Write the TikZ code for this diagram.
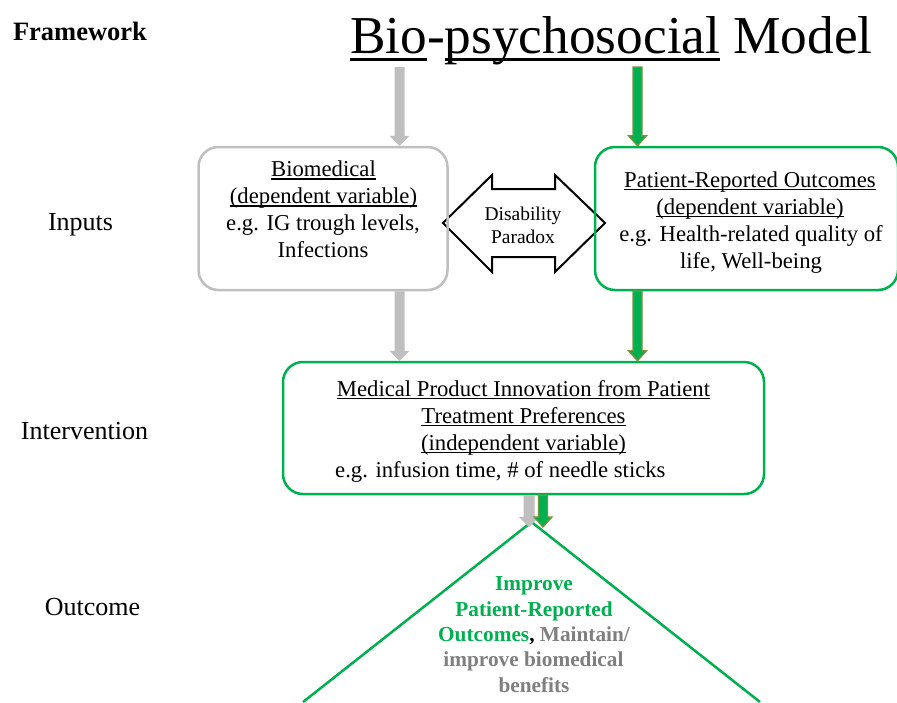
\documentclass[tikz,border=0pt]{standalone}
\usepackage{fontspec}
\setmainfont{Liberation Serif}
\usetikzlibrary{calc}
\newsavebox{\myulbox}
\newcommand{\ulx}[1]{\sbox\myulbox{#1}\rlap{\rule[-0.135em]{\wd\myulbox}{0.06em}}\usebox\myulbox}
\definecolor{pgreen}{HTML}{00B050}
\definecolor{pgray}{HTML}{BFBFBF}
\definecolor{polive}{HTML}{77933C}
\definecolor{tgray}{HTML}{7F7F7F}
% #1 style, #2 start, #3 tip, #4 half shaft, #5 half head
\newcommand{\fatarrow}[5]{%
  \draw[#1] ($(#2)+(-#4,0)$) -- ($(#3)+(-#4,-10)$) -- ($(#3)+(-#5,-10)$) -- (#3)
    -- ($(#3)+(#5,-10)$) -- ($(#3)+(#4,-10)$) -- ($(#2)+(#4,0)$) -- cycle;}
\begin{document}
\begin{tikzpicture}[x=1pt,y=-1pt,
  graybox/.style={draw=pgray, line width=2.5pt, rounded corners=20pt, inner sep=0pt},
  greenbox/.style={draw=pgreen, line width=2.5pt, rounded corners=20pt, inner sep=0pt},
  grayarr/.style={fill=pgray, draw=none},
  greenarr/.style={fill=pgreen, draw=polive, line width=1.3pt, line join=miter},
  dblarr/.style={fill=white, draw=black, line width=2pt, line join=miter},
  lbl/.style={font=\fontsize{26}{30}\selectfont, inner sep=0pt, anchor=base},
  txt/.style={font=\fontsize{22.7}{27}\selectfont, inner sep=0pt, anchor=base},
  dtxt/.style={font=\fontsize{19.5}{23}\selectfont, inner sep=0pt, anchor=base},
  otxt/.style={font=\bfseries\fontsize{21.3}{25}\selectfont, inner sep=0pt, anchor=base},
  tri/.style={draw=pgreen, line width=2.5pt}
]
\useasboundingbox (0,0) rectangle (897,702);

% left labels
\node[lbl, font=\bfseries\fontsize{26.5}{30}\selectfont] (fw) at (80,40) {Framework};
\node[lbl] (inp) at (80.5,230) {Inputs};
\node[lbl] (intv) at (84.5,439) {Intervention};
\node[lbl] (outc) at (92.5,615) {Outcome};

% title
\node[inner sep=0pt, anchor=base west, font=\fontsize{53.3}{60}\selectfont] (title) at (350,53.5)
  {\ulx{Bio}-\ulx{psychosocial} Model};

% outcome triangle
\coordinate (apex) at (531.5,522);
\coordinate (tl) at (303,702);
\coordinate (tr) at (760,702);
\draw[tri] (tl) -- (apex) -- (tr);

% disability paradox double arrow (below boxes)
\draw[dblarr] (443,223) -- (492,175) -- (492,189) -- (555,189) -- (555,175) -- (605,223)
  -- (555,272) -- (555,257) -- (492,257) -- (492,272) -- cycle;
\node[dtxt] (dp1) at (523,220) {Disability};
\node[dtxt] (dp2) at (523,243) {Paradox};

% boxes
\node[graybox, minimum width=249pt, minimum height=143pt] (bio) at (323,218.5) {};
\node[greenbox, minimum width=303pt, minimum height=143pt] (pro) at (746.5,218.5) {};
\node[greenbox, minimum width=481pt, minimum height=132pt] (int) at (523.5,428) {};

% box texts
\node[txt] (b1) at (323.5,176.7) {\ulx{Biomedical}};
\node[txt] (b2) at (323.5,203.7) {\ulx{(dependent variable)}};
\node[txt] (b3) at (323,230.7) {e.g. IG trough levels,};
\node[txt] (b4) at (323,257.7) {Infections};

\node[txt] (p1) at (750,187) {\ulx{Patient-Reported Outcomes}};
\node[txt] (p2) at (750,214) {\ulx{(dependent variable)}};
\node[txt] (p3) at (751,241) {e.g. Health-related quality of};
\node[txt] (p4) at (751,268) {life, Well-being};

\node[txt] (i1) at (523.5,396) {\ulx{Medical Product Innovation from Patient}};
\node[txt] (i2) at (523.5,423) {\ulx{Treatment Preferences}};
\node[txt] (i3) at (523.5,450) {\ulx{(independent variable)}};
\node[txt, anchor=base west] (i4) at (335,477) {e.g. infusion time, \# of needle sticks};

% outcome text
\node[otxt, text=pgreen] (o1) at (534,590.7) {Improve};
\node[otxt, text=pgreen] (o2) at (534,616) {Patient-Reported};
\node[otxt] (o3) at (534,641.5) {\textcolor{pgreen}{Outcomes}, \textcolor{tgray}{Maintain/}};
\node[otxt, text=tgray] (o4) at (533.5,666.8) {improve biomedical};
\node[otxt, text=tgray] (o5) at (534,692) {benefits};

% arrows
\coordinate (ga) at (399.5,67);
\coordinate (gn) at (637.5,67);
\fatarrow{grayarr}{ga}{ga |- bio.north}{5}{10}
\fatarrow{greenarr}{gn}{gn |- pro.north}{4.5}{9}
\coordinate (gb) at (bio.south -| ga);
\coordinate (gp) at (pro.south -| gn);
\fatarrow{grayarr}{gb}{gb |- int.north}{5}{10}
\fatarrow{greenarr}{gp}{gp |- int.north}{4.5}{9}
\coordinate (gc) at (int.south -| 529,0);
\coordinate (gd) at (int.south -| 543,0);
\coordinate (gce) at (529,527);
\coordinate (gde) at (543,527);
\fatarrow{grayarr}{gc}{gce}{5.5}{10}
\fatarrow{greenarr}{gd}{gde}{4.5}{9}
\end{tikzpicture}
\end{document}
